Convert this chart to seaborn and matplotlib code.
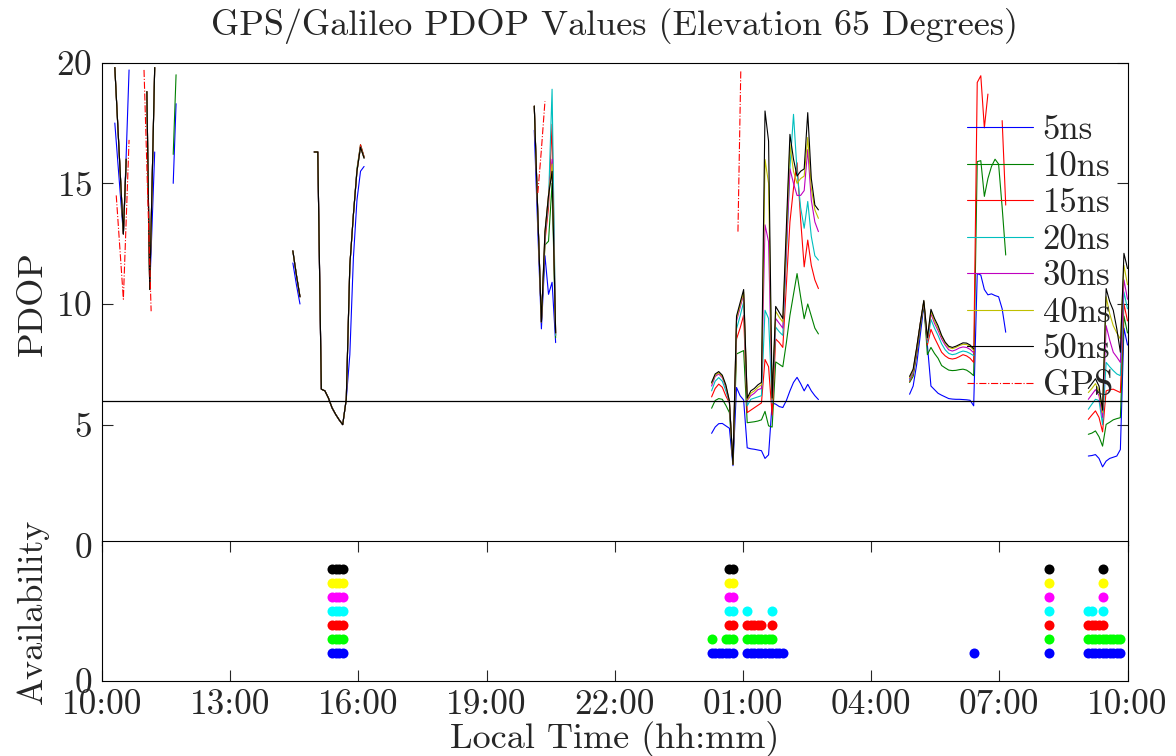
import numpy as np
import matplotlib
matplotlib.use("Agg")
import matplotlib.pyplot as plt
from matplotlib.lines import Line2D
import seaborn as sns

nan = np.nan

# ---------------------------------------------------------------- data
series_names = ["5ns", "10ns", "15ns", "20ns", "30ns", "40ns", "50ns"]
x_tick_labels = ["10:00", "13:00", "16:00", "19:00", "22:00", "01:00", "04:00", "07:00", "10:00"]
pdop_threshold = 6

# segment A (10:18 - 11:44)
segA_time = ["10:18", "10:30", "10:34", "10:38", "11:03", "11:07", "11:14", "11:22", "11:40", "11:44"]
segA_5ns = [17.5, 12.9, 16.2, 19.7, nan, 10.6, 16.3, nan, 15.0, 18.3]
segA_10ns = [19.8, 12.9, 16.0, nan, 18.8, 10.6, 19.8, nan, 16.2, 19.5]
segA_15ns = [19.8, 12.9, 16.0, nan, 18.8, 10.6, 19.8, nan, nan, nan]
segA_20ns = [19.8, 12.9, 16.0, nan, 18.8, 10.6, 19.8, nan, nan, nan]
segA_30ns = [19.8, 12.9, 16.0, nan, 18.8, 10.6, 19.8, nan, nan, nan]
segA_40ns = [19.8, 12.9, 16.0, nan, 18.8, 10.6, 19.8, nan, nan, nan]
segA_50ns = [19.8, 12.9, 16.0, nan, 18.8, 10.6, 19.8, nan, nan, nan]

# segment B (14:28 - 16:08)
segB_time = ["14:28", "14:33", "14:38", "14:45", "14:58", "15:03", "15:08", "15:13", "15:18", "15:23",
             "15:28", "15:33", "15:38", "15:43", "15:48", "15:53", "15:58", "16:03", "16:08"]
segB_5ns = [11.7, 10.8, 10.0, nan, 16.3, 16.3, 6.47, 6.4, 6.1, 5.7, 5.43, 5.2, 5.0, 6.05, 7.9, 11.9, 14.3, 15.5, 15.7]
segB_10ns = [12.2, 11.2, 10.3, nan, 16.3, 16.3, 6.47, 6.4, 6.1, 5.7, 5.43, 5.2, 5.0, 6.05, 11.6, 13.7, 15.6, 16.6, 16.1]
segB_15ns = [12.2, 11.2, 10.3, nan, 16.3, 16.3, 6.47, 6.4, 6.1, 5.7, 5.43, 5.2, 5.0, 6.05, 11.6, 13.7, 15.5, 16.6, 16.1]
segB_20ns = [12.2, 11.2, 10.3, nan, 16.3, 16.3, 6.47, 6.4, 6.1, 5.7, 5.43, 5.2, 5.0, 6.05, 11.6, 13.7, 15.5, 16.5, 16.05]
segB_30ns = [12.2, 11.2, 10.3, nan, 16.3, 16.3, 6.47, 6.4, 6.1, 5.7, 5.43, 5.2, 5.0, 6.05, 11.6, 13.7, 15.5, 16.5, 16.05]
segB_40ns = [12.2, 11.2, 10.3, nan, 16.3, 16.3, 6.47, 6.4, 6.1, 5.7, 5.43, 5.2, 5.0, 6.05, 11.6, 13.7, 15.5, 16.5, 16.05]
segB_50ns = [12.2, 11.2, 10.3, nan, 16.3, 16.3, 6.47, 6.4, 6.1, 5.7, 5.43, 5.2, 5.0, 6.05, 11.6, 13.7, 15.5, 16.5, 16.05]

# segment C (20:07 - 20:37)
segC_time = ["20:07", "20:12", "20:17", "20:22", "20:27", "20:32", "20:37"]
segC_5ns = [17.2, 13.0, 8.97, 12.0, 10.4, 10.9, 8.4]
segC_10ns = [18.2, 13.7, 9.25, 12.45, 12.6, 15.0, 8.6]
segC_15ns = [18.2, 13.7, 9.25, 12.6, 14.0, 17.45, 8.7]
segC_20ns = [18.2, 13.7, 9.25, 12.8, 14.3, 18.9, 8.7]
segC_30ns = [18.2, 13.7, 9.25, 12.9, 14.5, 16.0, 8.8]
segC_40ns = [18.2, 13.7, 9.25, 13.0, 14.5, 15.8, 8.8]
segC_50ns = [18.2, 13.7, 9.25, 13.0, 14.5, 15.5, 8.8]

# segment D (00:16 - 02:46)
segD_time = ["00:16", "00:21", "00:26", "00:31", "00:36", "00:41", "00:46", "00:51", "00:56", "01:01",
             "01:06", "01:11", "01:16", "01:21", "01:26", "01:31", "01:36", "01:41", "01:46", "01:51",
             "01:56", "02:01", "02:06", "02:11", "02:16", "02:21", "02:26", "02:31", "02:36", "02:41", "02:46"]
segD_5ns = [4.64, 4.9, 5.04, 5.05, 4.95, 4.85, 3.3, 6.54, 6.2, 6.02, 4.04, 4.0, 3.98, 3.95, 3.92, 3.6,
            3.75, 5.9, 5.85, 5.75, 5.71, 6.0, 6.4, 6.75, 6.96, 6.7, 6.4, 6.67, 6.4, 6.2, 6.04]
segD_10ns = [5.68, 6.0, 6.08, 6.05, 5.8, 5.5, 3.35, 7.93, 8.0, 8.07, 5.08, 5.1, 5.12, 5.15, 5.2, 5.55,
             4.95, 4.9, 7.6, 7.5, 7.4, 8.4, 9.53, 10.4, 11.26, 10.3, 9.39, 10.0, 9.5, 9.0, 8.76]
segD_15ns = [6.15, 6.5, 6.68, 6.55, 6.19, 5.9, 3.35, 8.55, 9.0, 9.53, 5.5, 5.6, 5.7, 5.8, 5.9, 7.7,
             7.4, 5.4, 8.55, 8.4, 8.2, 10.8, 13.4, 14.8, 15.85, 13.5, 11.54, 12.65, 11.6, 11.0, 10.64]
segD_20ns = [6.4, 6.8, 6.95, 6.8, 6.4, 5.92, 3.35, 8.97, 9.5, 10.08, 5.78, 6.05, 6.1, 6.15, 6.2, 9.74,
             9.4, 5.9, 9.04, 8.85, 8.7, 12.0, 15.64, 17.86, 15.5, 14.0, 13.14, 14.25, 12.8, 12.0, 11.82]
segD_30ns = [6.6, 7.0, 7.1, 6.95, 6.55, 5.95, 3.35, 9.3, 9.85, 10.4, 6.0, 6.2, 6.3, 6.45, 6.5, 13.28,
             12.58, 6.02, 9.4, 9.2, 9.0, 12.3, 15.6, 15.0, 14.5, 14.5, 14.7, 16.4, 14.3, 13.4, 13.0]
segD_40ns = [6.7, 7.05, 7.15, 7.0, 6.6, 5.97, 3.35, 9.4, 9.95, 10.5, 6.03, 6.3, 6.4, 6.55, 6.65, 15.99,
             15.0, 6.05, 9.7, 9.45, 9.25, 12.8, 16.6, 15.5, 15.0, 15.2, 15.3, 16.9, 14.8, 13.9, 13.55]
segD_50ns = [6.75, 7.1, 7.2, 7.05, 6.65, 5.98, 3.35, 9.5, 10.05, 10.6, 6.1, 6.4, 6.5, 6.65, 6.75, 18.0,
             16.75, 6.1, 9.9, 9.65, 9.4, 13.2, 17.03, 16.0, 15.3, 15.5, 15.6, 17.93, 15.2, 14.1, 13.9]

# segment E (04:54 - 07:09)
segE_time = ["04:54", "04:59", "05:04", "05:09", "05:14", "05:19", "05:24", "05:29", "05:34", "05:39",
             "05:44", "05:49", "05:54", "05:59", "06:04", "06:09", "06:14", "06:19", "06:24", "06:29",
             "06:34", "06:39", "06:44", "06:49", "06:54", "06:59", "07:04", "07:09"]
segE_5ns = [6.26, 6.6, 7.5, 8.7, 9.95, 8.3, 6.6, 6.45, 6.3, 6.22, 6.15, 6.08, 6.06, 6.05, 6.05, 6.04,
            6.03, 6.01, 5.78, 11.26, 11.2, 10.6, 10.38, 10.42, 10.35, 10.3, 9.8, 8.83]
segE_10ns = [6.75, 7.0, 7.9, 9.0, 10.0, 7.9, 8.2, 7.95, 7.75, 7.45, 7.35, 7.26, 7.24, 7.25, 7.28, 7.3,
             7.26, 7.16, 7.03, 15.9, 15.94, 14.46, 15.2, 15.7, 16.0, 15.8, 14.0, 12.03]
segE_15ns = [6.8, 7.1, 8.0, 9.1, 10.05, 8.3, 8.95, 8.6, 8.3, 8.0, 7.85, 7.75, 7.72, 7.75, 7.82, 7.9,
             7.85, 7.75, 7.58, 19.18, 19.46, 17.3, 18.7, nan, nan, nan, 17.6, 14.1]
segE_20ns = [6.85, 7.15, 8.1, 9.15, 10.08, 8.4, 9.36, 9.0, 8.7, 8.35, 8.1, 7.95, 7.9, 7.93, 8.0, 8.05,
             8.02, 7.95, 7.86, nan, nan, nan, nan, nan, nan, nan, nan, nan]
segE_30ns = [6.9, 7.2, 8.15, 9.2, 10.1, 8.5, 9.6, 9.2, 8.9, 8.55, 8.3, 8.1, 8.05, 8.1, 8.18, 8.22,
             8.2, 8.12, 7.98, nan, nan, nan, nan, nan, nan, nan, nan, nan]
segE_40ns = [6.95, 7.25, 8.18, 9.2, 10.12, 8.55, 9.7, 9.3, 9.0, 8.65, 8.38, 8.2, 8.15, 8.2, 8.28, 8.33,
             8.32, 8.25, 8.08, nan, nan, nan, nan, nan, nan, nan, nan, nan]
segE_50ns = [7.0, 7.3, 8.2, 9.2, 10.15, 8.6, 9.78, 9.4, 9.1, 8.7, 8.42, 8.25, 8.2, 8.25, 8.32, 8.39,
             8.38, 8.3, 8.14, nan, nan, nan, nan, nan, nan, nan, nan, nan]

# segment F (09:05 - 10:00)
segF_time = ["09:05", "09:10", "09:15", "09:20", "09:25", "09:30", "09:35", "09:40", "09:45", "09:50", "09:55", "10:00"]
segF_5ns = [3.7, 3.72, 3.76, 3.6, 3.25, 3.49, 3.6, 3.65, 3.7, 3.97, 9.0, 8.3]
segF_10ns = [4.6, 4.65, 4.74, 4.5, 4.11, 5.01, 5.1, 5.2, 5.25, 5.29, 9.5, 8.8]
segF_15ns = [5.22, 5.4, 5.57, 5.3, 4.7, 6.4, 6.45, 6.47, 6.4, 6.33, 10.0, 9.3]
segF_20ns = [5.64, 5.85, 6.05, 6.0, 5.0, 7.58, 7.4, 7.24, 7.1, 7.03, 10.5, 9.8]
segF_30ns = [6.05, 6.25, 6.45, 6.2, 5.3, 9.1, 8.5, 8.0, 7.8, 7.58, 11.0, 10.2]
segF_40ns = [6.33, 6.5, 6.7, 6.4, 5.5, 10.3, 9.6, 9.1, 8.8, 8.55, 11.6, 10.8]
segF_50ns = [6.5, 6.7, 6.9, 6.6, 5.6, 10.64, 10.1, 9.74, 8.97, 8.0, 12.1, 11.47]

# GPS only
gps_time = ["10:20", "10:30", "10:38", "10:50", "10:59", "11:09", "12:00",
            "20:12", "20:17", "20:22", "22:00", "00:53", "00:57"]
gps_pdop = [14.5, 10.2, 16.8, nan, 19.7, 9.7, nan,
            14.6, 16.4, 18.4, nan, 13.0, 19.7]

# availability (times at which PDOP < 6)
avail_5ns = ["15:23", "15:28", "15:33", "15:38",
             "00:16", "00:21", "00:26", "00:31", "00:36", "00:41", "00:46",
             "01:06", "01:11", "01:16", "01:21", "01:26", "01:31", "01:36", "01:41", "01:46", "01:51", "01:56",
             "06:24", "08:10",
             "09:05", "09:10", "09:15", "09:20", "09:25", "09:30", "09:35", "09:40", "09:45", "09:50"]
avail_10ns = ["15:23", "15:28", "15:33", "15:38",
              "00:16", "00:36", "00:41", "00:46",
              "01:06", "01:11", "01:16", "01:21", "01:26", "01:31", "01:36", "01:41",
              "08:10",
              "09:05", "09:10", "09:15", "09:20", "09:25", "09:30", "09:35", "09:40", "09:45", "09:50"]
avail_15ns = ["15:23", "15:28", "15:33", "15:38",
              "00:41", "00:46", "01:06", "01:11", "01:16", "01:21", "01:26", "01:41",
              "08:10", "09:05", "09:10", "09:15", "09:20", "09:25"]
avail_20ns = ["15:23", "15:28", "15:33", "15:38",
              "00:41", "00:46", "01:06", "01:41",
              "08:10", "09:05", "09:10", "09:25"]
avail_30ns = ["15:23", "15:28", "15:33", "15:38", "00:41", "00:46", "08:10", "09:25"]
avail_40ns = ["15:23", "15:28", "15:33", "15:38", "00:41", "00:46", "08:10", "09:25"]
avail_50ns = ["15:23", "15:28", "15:33", "15:38", "00:41", "00:46", "08:10", "09:25"]

# ---------------------------------------------------------------- style
sns.set_style("white")
plt.rcParams["font.family"] = ["cmr10", "DejaVu Serif"]
plt.rcParams["axes.formatter.use_mathtext"] = True
plt.rcParams["mathtext.fontset"] = "cm"
plt.rcParams["axes.unicode_minus"] = False

FS = 25.5
FS_BIG = 26
FS_LEG = 25
line_colors = ["#0000ff", "#008000", "#ff0000", "#00bfbf", "#bf00bf", "#bfbf00", "#000000"]
dot_colors = ["#0000ff", "#00ff00", "#ff0000", "#00ffff", "#ff00ff", "#ffff00", "#000000"]
LW = 0.8


def to_hours(s):
    h, m = s.split(":")
    t = int(h) + int(m) / 60.0 - 10.0
    if t <= 0:
        t += 24.0
    return t


def draw_runs(ax, times, values, color, ls="-", lw=LW):
    t = np.array([to_hours(s) for s in times])
    v = np.array(values, dtype=float)
    idx = np.where(~np.isnan(v))[0]
    if len(idx) == 0:
        return
    runs = np.split(idx, np.where(np.diff(idx) != 1)[0] + 1)
    for r in runs:
        if len(r) < 2:
            continue
        sns.lineplot(x=t[r], y=v[r], color=color, linestyle=ls, linewidth=lw,
                     estimator=None, sort=False, errorbar=None, legend=False, ax=ax)


segments = [
    (segA_time, [segA_5ns, segA_10ns, segA_15ns, segA_20ns, segA_30ns, segA_40ns, segA_50ns]),
    (segB_time, [segB_5ns, segB_10ns, segB_15ns, segB_20ns, segB_30ns, segB_40ns, segB_50ns]),
    (segC_time, [segC_5ns, segC_10ns, segC_15ns, segC_20ns, segC_30ns, segC_40ns, segC_50ns]),
    (segD_time, [segD_5ns, segD_10ns, segD_15ns, segD_20ns, segD_30ns, segD_40ns, segD_50ns]),
    (segE_time, [segE_5ns, segE_10ns, segE_15ns, segE_20ns, segE_30ns, segE_40ns, segE_50ns]),
    (segF_time, [segF_5ns, segF_10ns, segF_15ns, segF_20ns, segF_30ns, segF_40ns, segF_50ns]),
]
avail_lists = [avail_5ns, avail_10ns, avail_15ns, avail_20ns, avail_30ns, avail_40ns, avail_50ns]

W, H = 1176, 756
fig = plt.figure(figsize=(W / 100, H / 100), dpi=100)
L, R = 102, 1127.5
ax = fig.add_axes([L / W, 1 - 545.3 / H, (R - L) / W, (545.3 - 62.7) / H])
ax2 = fig.add_axes([L / W, 1 - 681 / H, (R - L) / W, (681 - 540.7) / H])

# ---- PDOP lines
for k in range(len(series_names)):
    for times, vals in segments:
        draw_runs(ax, times, vals[k], line_colors[k])
draw_runs(ax, gps_time, gps_pdop, "#ff0000", ls="-.")
ax.axhline(pdop_threshold, color="black", lw=0.9)

ax.set_xlim(0, 24)
ax.set_ylim(0, 20)
ax.set_xticks(np.arange(0, 25, 3))
ax.set_yticks([0, 5, 10, 15, 20])
ax.tick_params(axis="x", bottom=False, top=False, labelbottom=False)
ax.tick_params(axis="y", direction="in", length=7.7, width=0.8, left=True, right=True,
               labelsize=FS, pad=7)
ax.set_ylabel("PDOP", fontsize=FS_BIG)
ax.yaxis.set_label_coords(-0.052, 0.5)
ax.set_xlabel("")
ax.set_title("GPS/Galileo PDOP Values (Elevation 65 Degrees)", fontsize=FS_BIG, pad=20)
for sp in ax.spines.values():
    sp.set_color("black")
    sp.set_linewidth(0.8)

handles = [Line2D([], [], color=c, lw=LW) for c in line_colors]
handles.append(Line2D([], [], color="#ff0000", lw=LW, ls="-."))
ax.legend(handles, series_names + ["GPS"], loc="upper left", bbox_to_anchor=(0.8438, 0.892),
          frameon=False, fontsize=FS_LEG, handlelength=1.9, handletextpad=0.27,
          labelspacing=0.14, borderpad=0, borderaxespad=0)

# ---- availability dots
for k in range(len(series_names)):
    t = [to_hours(s) for s in avail_lists[k]]
    sns.scatterplot(x=t, y=[k + 2] * len(t), color=dot_colors[k], s=52, linewidth=0,
                    legend=False, ax=ax2, zorder=3)
ax2.set_xlim(0, 24)
ax2.set_ylim(0, 10)
ax2.set_xticks(np.arange(0, 25, 3))
ax2.set_xticklabels(x_tick_labels)
ax2.set_yticks([0])
ax2.tick_params(axis="x", direction="in", length=7.7, width=0.8, top=True, bottom=True,
                labelsize=FS, pad=6)
ax2.tick_params(axis="y", direction="in", length=0, labelsize=FS, pad=7)
ax2.set_ylabel("Availability", fontsize=FS_BIG)
ax2.yaxis.set_label_coords(-0.052, 0.5)
ax2.set_xlabel("Local Time (hh:mm)", fontsize=FS_BIG, labelpad=0)
ax2.set_facecolor("white")
for sp in ax2.spines.values():
    sp.set_color("black")
    sp.set_linewidth(0.8)

fig.savefig("out.png", dpi=100, facecolor="white")
